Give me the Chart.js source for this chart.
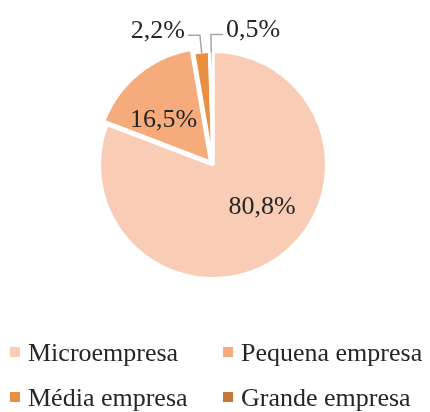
<!DOCTYPE html>
<html><head><meta charset="utf-8">
<script src="https://cdn.jsdelivr.net/npm/chart.js@4"></script>
<style>html,body{margin:0;padding:0;background:#fff}#wrap{width:430px;height:412px;position:relative}canvas{display:block}</style>
</head><body><div id="wrap"><canvas id="c" width="430" height="412"></canvas></div>
<script>
const categories = ['Microempresa', 'Pequena empresa', 'Média empresa', 'Grande empresa'];
const shares = [80.8, 16.5, 2.2, 0.5];
const valueLabels = ['80,8%', '16,5%', '2,2%', '0,5%'];
const sliceColors = ['#F9CCB5', '#F6AB7C', '#E98F42', '#C5783A'];

// label placement style: inside labels (radius fraction, angle shift in degrees), or leader lines
const labelStyle = [
  { inside: true, frac: 0.56, shift: -16 },
  { inside: true, frac: 0.60, shift: -7 },
  { inside: false, side: -1 },
  { inside: false, side: 1 }
];
const FONT = '26px "Liberation Serif", "Times New Roman", serif';
const TEXT = '#262626';

const labelPlugin = {
  id: 'pieLabels',
  afterDatasetsDraw(chart) {
    const ctx = chart.ctx;
    const meta = chart.getDatasetMeta(0);
    ctx.save();
    ctx.font = FONT;
    ctx.fillStyle = TEXT;
    meta.data.forEach((arc, i) => {
      const p = arc.getProps(['x', 'y', 'startAngle', 'endAngle', 'outerRadius'], true);
      const mid = (p.startAngle + p.endAngle) / 2;
      const st = labelStyle[i];
      if (st.inside) {
        const a = mid + st.shift * Math.PI / 180;
        const lx = p.x + Math.cos(a) * p.outerRadius * st.frac;
        const ly = p.y + Math.sin(a) * p.outerRadius * st.frac;
        ctx.textAlign = 'center';
        ctx.textBaseline = 'alphabetic';
        ctx.fillText(valueLabels[i], lx, ly + 8.5);
      } else {
        const r0 = p.outerRadius - 1;
        const r1 = p.outerRadius + 17;
        const x0 = p.x + Math.cos(mid) * r0, y0 = p.y + Math.sin(mid) * r0;
        const x1 = p.x + Math.cos(mid) * r1, y1 = p.y + Math.sin(mid) * r1;
        const x2 = x1 + st.side * 12;
        ctx.strokeStyle = '#A6A6A6';
        ctx.lineWidth = 1.5;
        ctx.beginPath();
        ctx.moveTo(x0, y0); ctx.lineTo(x1, y1); ctx.lineTo(x2, y1);
        ctx.stroke();
        ctx.textAlign = st.side < 0 ? 'right' : 'left';
        ctx.textBaseline = 'alphabetic';
        ctx.fillText(valueLabels[i], x2 + st.side * 3, y1 + 2.5);
      }
    });
    ctx.restore();
  }
};

const legendPlugin = {
  id: 'gridLegend',
  afterDraw(chart) {
    const ctx = chart.ctx;
    const cols = [10, 223];
    const rows = [361, 406];
    ctx.save();
    ctx.font = FONT;
    ctx.textAlign = 'left';
    ctx.textBaseline = 'alphabetic';
    chart.data.labels.forEach((lab, i) => {
      const x = cols[i % 2], y = rows[Math.floor(i / 2)];
      ctx.fillStyle = chart.data.datasets[0].backgroundColor[i];
      ctx.fillRect(x, y - 14, 10, 10);
      ctx.fillStyle = TEXT;
      ctx.fillText(lab, x + 18, y);
    });
    ctx.restore();
  }
};

new Chart(document.getElementById('c'), {
  type: 'pie',
  data: {
    labels: categories,
    datasets: [{
      data: shares,
      backgroundColor: sliceColors,
      borderColor: '#FFFFFF',
      borderWidth: 3,
      offset: [0, 16, 0, 0]
    }]
  },
  options: {
    responsive: false,
    animation: false,
    devicePixelRatio: 1,
    layout: { padding: { left: 90, right: 94, top: 42, bottom: 124 } },
    plugins: { legend: { display: false }, tooltip: { enabled: false }, title: { display: false } }
  },
  plugins: [labelPlugin, legendPlugin]
});
</script>
</body></html>
